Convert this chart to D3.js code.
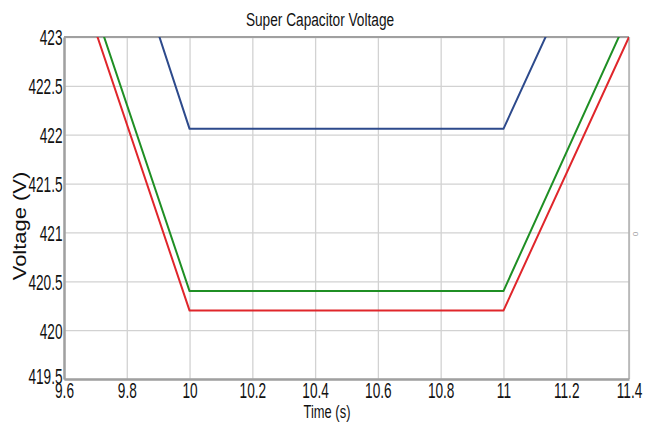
<!DOCTYPE html>
<html>
<head>
<meta charset="utf-8">
<script src="https://cdn.jsdelivr.net/npm/d3@7"></script>
<style>
body { margin: 0; background: #fff; }
text { font-family: "Liberation Sans", Arial, sans-serif; fill: #111; }
</style>
</head>
<body>
<svg id="chart" width="648" height="431"></svg>
<script>
const xTicks = [9.6, 9.8, 10, 10.2, 10.4, 10.6, 10.8, 11, 11.2, 11.4];
const yTicks = [419.5, 420, 420.5, 421, 421.5, 422, 422.5, 423];

const blueTime = [9.8, 10, 11, 11.2];
const blueVolt = [424.02, 422.06, 422.06, 423.46];
const greenTime = [9.6, 10, 11, 11.4];
const greenVolt = [424.22, 420.4, 420.4, 423.23];
const redTime = [9.6, 10, 11, 11.4];
const redVolt = [424.02, 420.2, 420.2, 423.0];

const series = [
    {name: "blue", color: "#2d4a8c", t: blueTime, v: blueVolt},
    {name: "green", color: "#1f8f24", t: greenTime, v: greenVolt},
    {name: "red", color: "#e0262b", t: redTime, v: redVolt}
];

const svg = d3.select("#chart");
const margin = {top: 37, right: 19, bottom: 52, left: 64};
const width = +svg.attr("width") - margin.left - margin.right;
const height = +svg.attr("height") - margin.top - margin.bottom;
const g = svg.append("g").attr("transform", "translate(" + margin.left + "," + margin.top + ")");

const x = d3.scaleLinear().domain([9.6, 11.4]).range([0, width]);
const y = d3.scaleLinear().domain([419.5, 423]).range([height, 0]);

// grid
g.append("g")
    .attr("transform", "translate(0," + height + ")")
    .call(d3.axisBottom(x).tickValues(xTicks).tickSize(-height).tickFormat(""))
    .call(s => s.select(".domain").remove())
    .selectAll("line").attr("stroke", "#d2d2d2").attr("stroke-width", 1.3);
g.append("g")
    .call(d3.axisLeft(y).tickValues(yTicks).tickSize(-width).tickFormat(""))
    .call(s => s.select(".domain").remove())
    .selectAll("line").attr("stroke", "#d2d2d2").attr("stroke-width", 1.3);

// frame
g.append("line").attr("x1", 0).attr("x2", width).attr("y1", 0).attr("y2", 0)
    .attr("stroke", "#a0a0a0").attr("stroke-width", 2);
g.append("line").attr("x1", width).attr("x2", width).attr("y1", 0).attr("y2", height)
    .attr("stroke", "#b0b0b0").attr("stroke-width", 1.5);

g.append("clipPath").attr("id", "clip")
    .append("rect").attr("width", width).attr("height", height);

const line = d3.line()
    .x(function (d) { return x(d[0]); })
    .y(function (d) { return y(d[1]); });

g.append("g").attr("clip-path", "url(#clip)")
    .selectAll("path").data(series).enter().append("path")
    .attr("d", function (s) { return line(d3.zip(s.t, s.v)); })
    .attr("fill", "none")
    .attr("stroke", function (s) { return s.color; })
    .attr("stroke-width", 2)
    .attr("stroke-linejoin", "round");

// axes
const sx = 0.62;
const xAxis = g.append("g")
    .attr("transform", "translate(0," + height + ")")
    .call(d3.axisBottom(x).tickValues(xTicks).tickSize(0).tickFormat(d3.format("")));
xAxis.select(".domain").attr("stroke", "#a0a0a0").attr("stroke-width", 2.5);
xAxis.selectAll("text")
    .attr("x", 0).attr("y", 19).attr("dy", null)
    .attr("transform", "scale(" + sx + ",1)")
    .style("font-size", "22px").attr("fill", "#111");

const yAxis = g.append("g")
    .call(d3.axisLeft(y).tickValues(yTicks).tickSize(0).tickFormat(d3.format("")));
yAxis.select(".domain").attr("stroke", "#a0a0a0").attr("stroke-width", 2.5);
yAxis.selectAll("text")
    .attr("x", -1.5 / sx).attr("dy", "0.36em")
    .attr("transform", "scale(" + sx + ",1)")
    .style("font-size", "22px").attr("fill", "#111");
// the bottom y label sits a touch higher so it clears the first x label
yAxis.selectAll("text").filter(function (d) { return d === 419.5; }).attr("dy", "0.2em");

// titles
svg.append("text")
    .attr("transform", "translate(320,26) scale(0.72,1)")
    .attr("text-anchor", "middle")
    .style("font-size", "19px")
    .text("Super Capacitor Voltage");

svg.append("text")
    .attr("transform", "translate(327,418) scale(0.68,1)")
    .attr("text-anchor", "middle")
    .style("font-size", "19px")
    .text("Time (s)");

svg.append("text")
    .attr("transform", "translate(26,226) rotate(-90) scale(1.22,1)")
    .attr("text-anchor", "middle")
    .style("font-size", "18px")
    .text("Voltage (V)");

svg.append("text")
    .attr("transform", "translate(633,234) rotate(90)")
    .attr("text-anchor", "middle")
    .style("font-size", "8px")
    .style("fill", "#999")
    .text("0");
</script>
</body>
</html>
